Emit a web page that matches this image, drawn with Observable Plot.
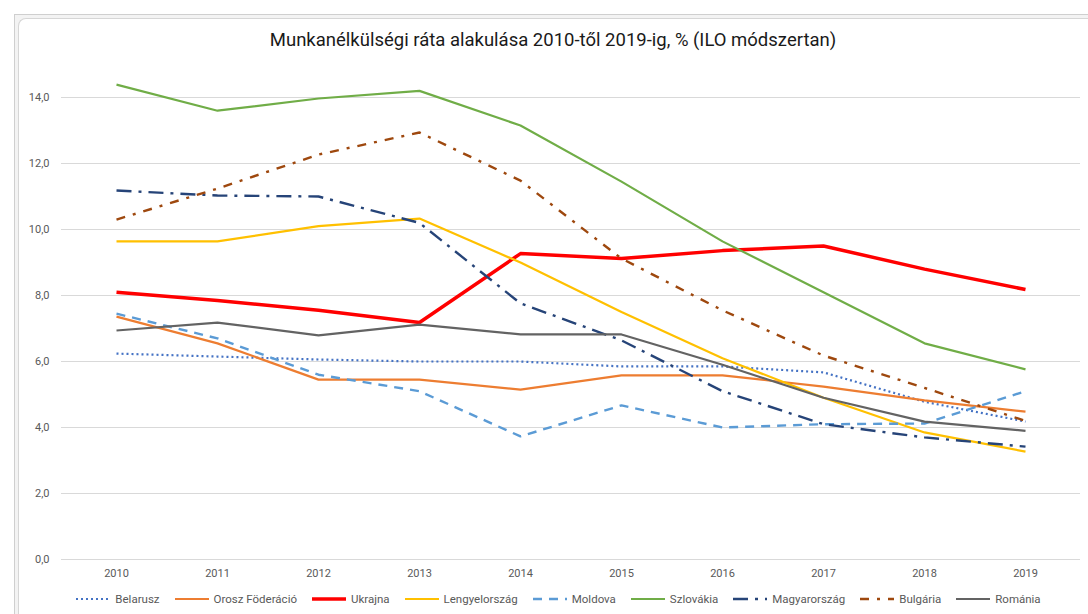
<!DOCTYPE html>
<html>
<head>
<meta charset="utf-8">
<script src="https://cdn.jsdelivr.net/npm/d3@7"></script>
<script src="https://cdn.jsdelivr.net/npm/@observablehq/plot@0.6"></script>
<style>
  html, body { margin: 0; padding: 0; background: #fff; }
  #page { position: relative; width: 1088px; height: 614px; overflow: hidden; font-family: Roboto, "Liberation Sans", sans-serif; }
  #frameOuter { position: absolute; left: 14px; top: 14px; width: 1080px; height: 610px; border-left: 1px solid #cfcfcf; border-top: 1px solid #cfcfcf; background: #f3f3f3; }
  #frameInner { position: absolute; left: 18px; top: 18px; width: 1080px; height: 610px; border-left: 1px solid #d6d6d6; border-top: 1px solid #d6d6d6; border-top-left-radius: 8px; background: #fff; }
  #title { position: absolute; left: 0; top: 29px; width: 1106px; text-align: center; font-size: 18.5px; line-height: 22px; color: #1a1a1a; }
  #chart { position: absolute; left: 0; top: 60px; }
  #legend { position: absolute; left: 0; top: 590px; width: 1116px; height: 18px; display: flex; justify-content: center; align-items: center; font-size: 11.5px; color: #595959; }
  .item { display: flex; align-items: center; margin: 0 7px; }
  .item svg { margin-right: 4px; }
</style>
</head>
<body>
<div id="page">
  <div id="frameOuter"></div>
  <div id="frameInner"></div>
  <div id="title">Munkanélkülségi ráta alakulása 2010-től 2019-ig, % (ILO módszertan)</div>
  <div id="chart"></div>
  <div id="legend"></div>
</div>
<script>
const years = ["2010","2011","2012","2013","2014","2015","2016","2017","2018","2019"];
const yTicks = [0, 2, 4, 6, 8, 10, 12, 14];
const seriesNames = ["Belarusz","Orosz Föderáció","Ukrajna","Lengyelország","Moldova","Szlovákia","Magyarország","Bulgária","Románia"];
const belarusz      = [6.24, 6.15, 6.06, 6.0, 6.0, 5.85, 5.85, 5.67, 4.78, 4.18];
const oroszFoderacio= [7.36, 6.55, 5.45, 5.45, 5.15, 5.58, 5.58, 5.24, 4.82, 4.48];
const ukrajna       = [8.1, 7.85, 7.55, 7.18, 9.27, 9.12, 9.36, 9.5, 8.8, 8.18];
const lengyelorszag = [9.64, 9.64, 10.1, 10.33, 9.0, 7.5, 6.1, 4.9, 3.85, 3.27];
const moldova       = [7.45, 6.7, 5.6, 5.1, 3.73, 4.67, 4.0, 4.1, 4.12, 5.1];
const szlovakia     = [14.39, 13.6, 13.97, 14.2, 13.15, 11.45, 9.64, 8.1, 6.55, 5.76];
const magyarorszag  = [11.18, 11.03, 11.0, 10.2, 7.76, 6.64, 5.1, 4.1, 3.7, 3.42];
const bulgaria      = [10.3, 11.24, 12.27, 12.94, 11.48, 9.12, 7.55, 6.18, 5.2, 4.2];
const romania       = [6.94, 7.18, 6.79, 7.12, 6.82, 6.82, 5.9, 4.9, 4.18, 3.9];

const values = [belarusz, oroszFoderacio, ukrajna, lengyelorszag, moldova, szlovakia, magyarorszag, bulgaria, romania];

// styles (separate from data)
const styles = {
  "Belarusz":        {stroke: "#4472C4", width: 2.2, dash: "2 3"},
  "Orosz Föderáció": {stroke: "#ED7D31", width: 2.2, dash: null},
  "Ukrajna":         {stroke: "#FF0000", width: 3.5, dash: null},
  "Lengyelország":   {stroke: "#FFC000", width: 2.2, dash: null},
  "Moldova":         {stroke: "#5B9BD5", width: 2.4, dash: "9 7"},
  "Szlovákia":       {stroke: "#70AD47", width: 2.2, dash: null},
  "Magyarország":    {stroke: "#264478", width: 2.4, dash: "15 7 3 7"},
  "Bulgária":        {stroke: "#9E480E", width: 2.4, dash: "9 8 3 8"},
  "Románia":         {stroke: "#636363", width: 2.2, dash: null}
};

const rows = seriesNames.map((name, i) => years.map((year, j) => ({name, year, value: values[i][j]})));

const plot = Plot.plot({
  width: 1088,
  height: 530,
  marginLeft: 61,
  marginRight: 8,
  marginTop: 37,
  marginBottom: 31,
  style: {fontFamily: "Roboto, 'Liberation Sans', sans-serif", fontSize: "11px", color: "#595959", background: "transparent", overflow: "visible"},
  x: {type: "point", domain: years, padding: 0.5, label: null},
  y: {domain: [0, 14], label: null},
  marks: [
    Plot.gridY(yTicks, {stroke: "#d9d9d9", strokeOpacity: 1, strokeWidth: 1}),
    Plot.axisY(yTicks, {tickSize: 0, tickPadding: 12, tickFormat: d => d.toFixed(1).replace(".", ","), label: null}),
    Plot.axisX({tickSize: 0, tickPadding: 10, label: null}),
    ...rows.map((data, i) => {
      const s = styles[seriesNames[i]];
      return Plot.line(data, {x: "year", y: "value", stroke: s.stroke, strokeWidth: s.width, strokeDasharray: s.dash, strokeLinejoin: "round", strokeLinecap: "butt"});
    })
  ]
});
document.getElementById("chart").appendChild(plot);

// legend
const legend = document.getElementById("legend");
seriesNames.forEach(name => {
  const s = styles[name];
  const item = document.createElement("div");
  item.className = "item";
  const svg = d3.create("svg").attr("width", 36).attr("height", 8);
  svg.append("line").attr("x1", 1).attr("x2", 35).attr("y1", 4).attr("y2", 4)
    .attr("stroke", s.stroke).attr("stroke-width", s.width)
    .attr("stroke-dasharray", s.dash);
  item.appendChild(svg.node());
  const label = document.createElement("span");
  label.textContent = name;
  item.appendChild(label);
  legend.appendChild(item);
});
</script>
</body>
</html>
